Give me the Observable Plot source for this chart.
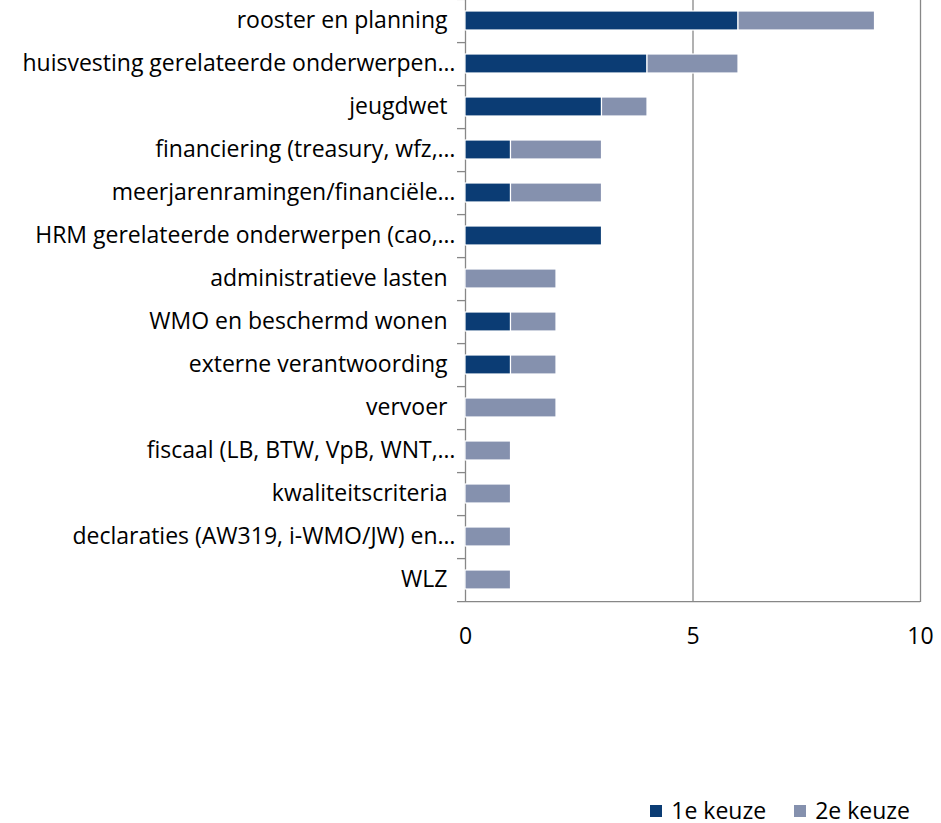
<!DOCTYPE html>
<html><head><meta charset="utf-8">
<script src="https://cdn.jsdelivr.net/npm/d3@7"></script>
<script src="https://cdn.jsdelivr.net/npm/@observablehq/plot@0.6"></script>
<style>
body{margin:0;background:#fff;font-family:"Open Sans",sans-serif;overflow:hidden;}
#legend{display:flex;justify-content:flex-end;font-size:23px;line-height:22px;color:#000;padding-right:31px;margin-top:139px;}
#legend span{display:inline-flex;align-items:center;margin-left:28px;}
#legend i{display:inline-block;width:12px;height:12px;margin-right:9px;margin-top:1px;}
</style></head><body>
<div id="chart"></div>
<div id="legend"></div>
<script>
const categories = ["rooster en planning","huisvesting gerelateerde onderwerpen…","jeugdwet","financiering (treasury, wfz,…","meerjarenramingen/financiële…","HRM gerelateerde onderwerpen (cao,…","administratieve lasten","WMO en beschermd wonen","externe verantwoording","vervoer","fiscaal (LB, BTW, VpB, WNT,…","kwaliteitscriteria","declaraties (AW319, i-WMO/JW) en…","WLZ"];
const eersteKeuze = [6,4,3,1,1,3,0,1,1,0,0,0,0,0];
const tweedeKeuze = [3,2,1,2,2,0,2,1,1,2,1,1,1,1];
const seriesNames = ["1e keuze","2e keuze"];
const seriesColors = ["#0b3c74","#8591ae"];
const xTicks = [0,5,10];

const rows = [];
categories.forEach((c,i)=>{
  rows.push({cat:c, serie:seriesNames[0], value:eersteKeuze[i]});
  rows.push({cat:c, serie:seriesNames[1], value:tweedeKeuze[i]});
});
const truncated = categories.filter(c => c.endsWith("…"));
const full = categories.filter(c => !c.endsWith("…"));
const gray = "#878787";
const plot = Plot.plot({
  width: 941, height: 660,
  marginLeft: 465, marginRight: 21, marginTop: -2, marginBottom: 58,
  style: {fontFamily: "'Open Sans', sans-serif", fontSize: "23px", color: "#000", background: "#fff"},
  x: {domain: [0,10], axis: null},
  y: {domain: categories, axis: null, paddingInner: 0.55, paddingOuter: 0.275},
  color: {domain: seriesNames, range: seriesColors},
  marks: [
    Plot.ruleX(xTicks, {stroke: gray, strokeWidth: 1.3}),
    Plot.barX(rows, Plot.stackX({y: "cat", x: "value", fill: "serie", stroke: "white", strokeWidth: 1.2, order: seriesNames})),
    Plot.ruleY(categories.slice(0,1), {y: d=>d, x1: -0.176, x2: 0, dy: -21.6, stroke: gray, strokeWidth: 1.3}),
    Plot.ruleY(categories.slice(0,-1), {y: d=>d, x1: -0.176, x2: 0, dy: 21.6, stroke: gray, strokeWidth: 1.3}),
    Plot.ruleY(categories.slice(-1), {y: d=>d, x1: -0.176, x2: 10, dy: 21.6, stroke: gray, strokeWidth: 1.3}),
    Plot.tickX(xTicks, {x: d=>d, y: categories[categories.length-1], dy: 26, stroke: gray, strokeWidth: 1.3}),
    Plot.text(truncated, {x: () => 0, y: d=>d, textAnchor: "end", dx: -10, fill: "#000"}),
    Plot.text(full, {x: () => 0, y: d=>d, textAnchor: "end", dx: -18, fill: "#000"}),
    Plot.axisX(xTicks, {tickSize: 0, tickPadding: 25, stroke: gray, fill: "#000", label: null})
  ]
});
document.getElementById("chart").appendChild(plot);
const lg = document.getElementById("legend");
seriesNames.forEach((n,i)=>{
  const s = document.createElement("span");
  s.innerHTML = `<i style="background:${seriesColors[i]}"></i>${n}`;
  lg.appendChild(s);
});
</script></body></html>
